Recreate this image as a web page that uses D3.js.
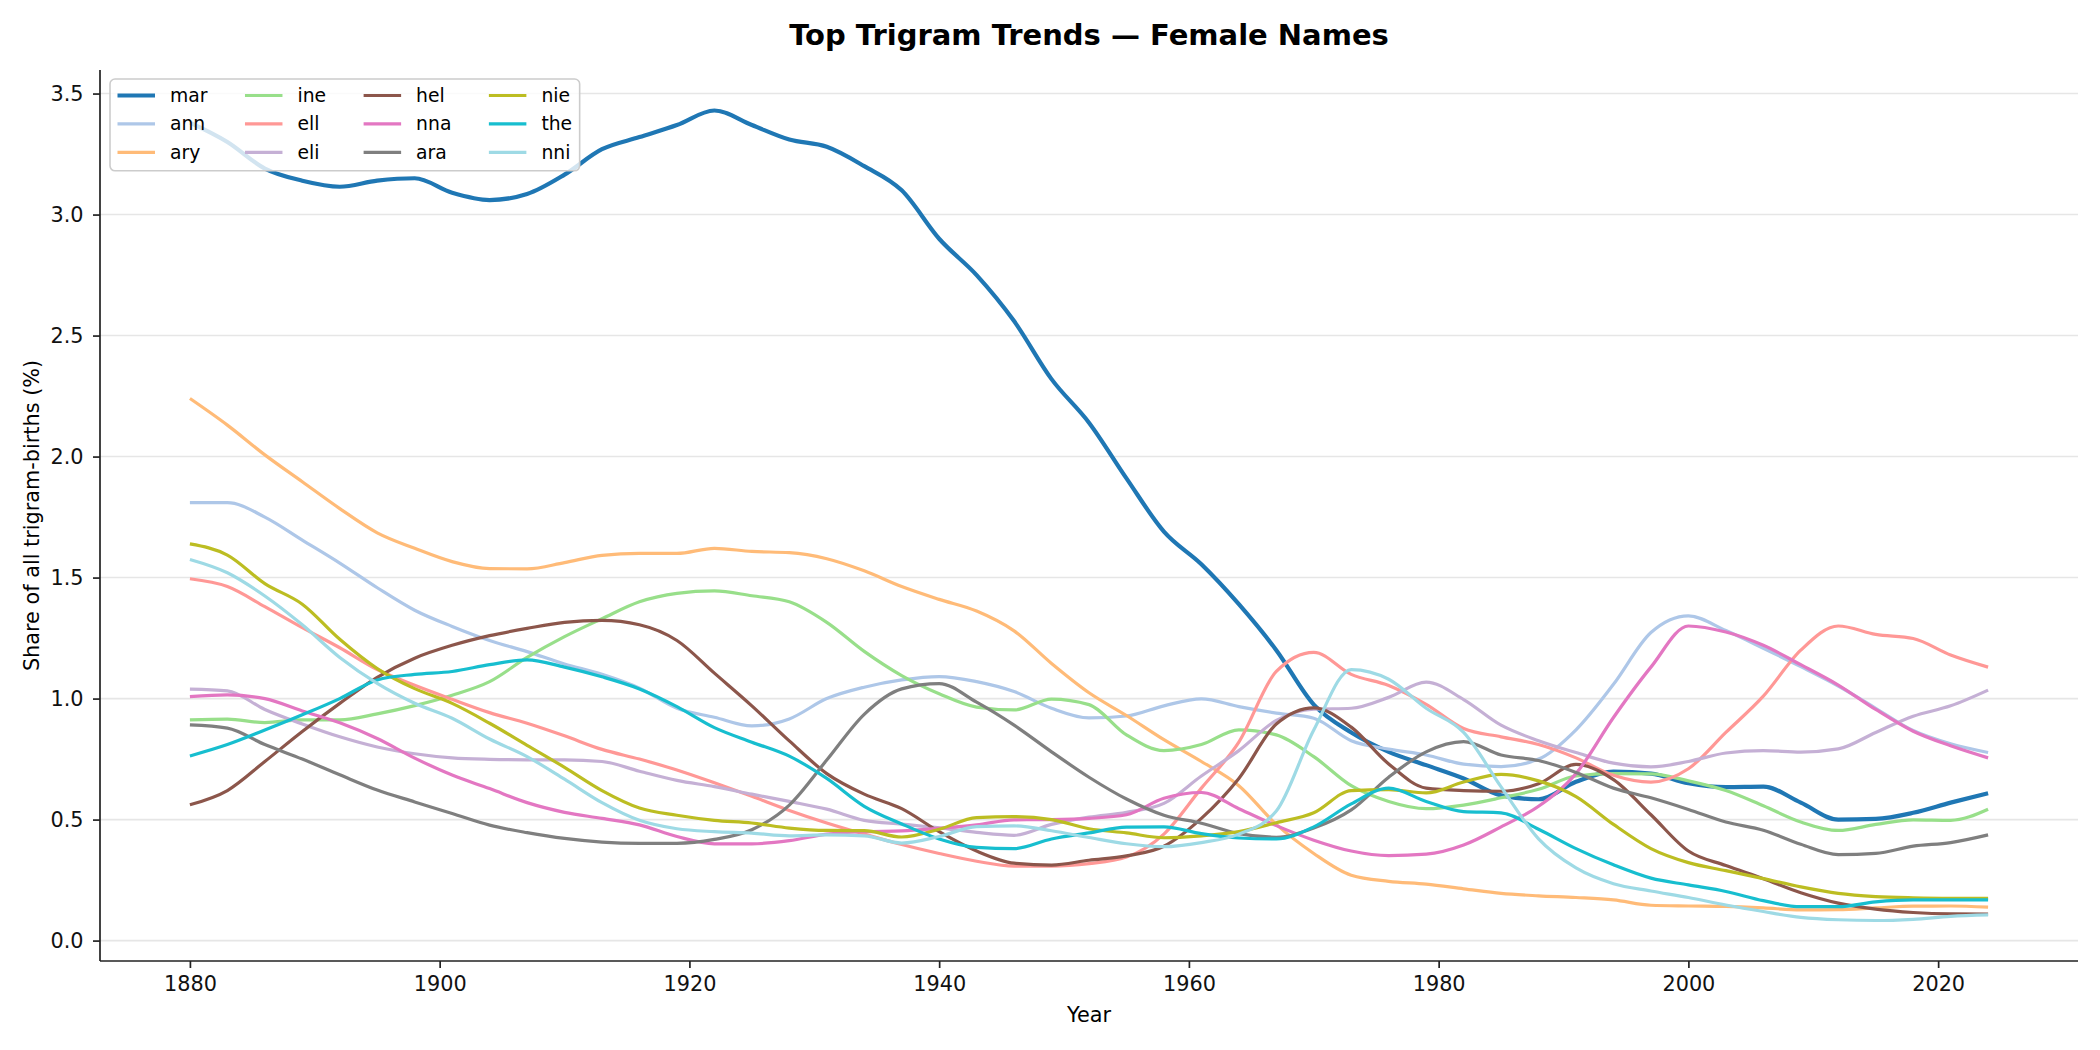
<!DOCTYPE html>
<meta charset="utf-8">
<html>
<head>
<script src="https://d3js.org/d3.v7.min.js"></script>
<style>
  body { margin: 0; background: #fff; }
  svg { font-family: "DejaVu Sans", sans-serif; }
</style>
</head>
<body>
<div id="chart"></div>
<script>

const years = [1880,1883,1886,1889,1892,1895,1898,1901,1904,1907,1910,1913,
  1916,1919,1922,1925,1928,1931,1934,1937,1940,1943,1946,1949,1952,
  1955,1958,1961,1964,1967,1970,1973,1976,1979,1982,1985,1988,1991,
  1994,1997,2000,2003,2006,2009,2012,2015,2018,2021,2024];

const mar = [3.38,3.30,3.19,3.14,3.115,3.14,3.15,3.09,3.06,3.085,3.165,3.27,
  3.32,3.37,3.43,3.37,3.31,3.28,3.20,3.10,2.90,2.75,2.56,2.32,2.14,
  1.91,1.69,1.555,1.39,1.20,0.975,0.86,0.78,0.725,0.67,0.60,0.584,0.656,
  0.698,0.69,0.65,0.634,0.636,0.57,0.50,0.503,0.528,0.57,0.609];
const ann = [1.81,1.81,1.75,1.655,1.56,1.458,1.365,1.298,1.24,1.194,1.143,1.10,
  1.043,0.96,0.923,0.887,0.916,1.0,1.047,1.077,1.091,1.07,1.029,0.96,0.92,
  0.928,0.97,0.999,0.967,0.94,0.919,0.826,0.791,0.767,0.729,0.719,0.75,0.871,
  1.059,1.273,1.342,1.281,1.208,1.132,1.052,0.96,0.868,0.813,0.777];
const ary = [2.24,2.13,2.007,1.896,1.785,1.685,1.621,1.566,1.537,1.536,1.562,1.592,
  1.60,1.60,1.621,1.608,1.603,1.578,1.528,1.463,1.41,1.362,1.28,1.145,1.024,
  0.93,0.83,0.74,0.64,0.48,0.36,0.27,0.245,0.233,0.214,0.195,0.185,0.178,
  0.168,0.146,0.143,0.141,0.135,0.127,0.128,0.135,0.142,0.143,0.138];
const ine = [0.912,0.915,0.901,0.912,0.912,0.937,0.971,1.014,1.07,1.17,1.256,1.33,
  1.40,1.435,1.445,1.425,1.40,1.315,1.195,1.095,1.02,0.965,0.953,0.998,0.975,
  0.85,0.785,0.81,0.871,0.85,0.76,0.64,0.575,0.545,0.56,0.59,0.625,0.68,
  0.69,0.689,0.66,0.62,0.557,0.49,0.455,0.48,0.499,0.497,0.543];
const ell = [1.495,1.463,1.38,1.293,1.21,1.12,1.055,0.997,0.942,0.898,0.846,0.79,
  0.75,0.705,0.652,0.596,0.538,0.486,0.44,0.397,0.36,0.328,0.308,0.308,0.318,
  0.345,0.44,0.63,0.82,1.112,1.191,1.10,1.054,0.976,0.876,0.842,0.81,0.755,
  0.683,0.655,0.71,0.86,1.01,1.20,1.30,1.265,1.248,1.18,1.13];
const eli = [1.039,1.032,0.955,0.895,0.842,0.80,0.772,0.755,0.749,0.747,0.747,0.74,
  0.70,0.662,0.636,0.605,0.575,0.543,0.497,0.481,0.466,0.447,0.435,0.48,0.51,
  0.53,0.567,0.68,0.785,0.91,0.956,0.96,1.005,1.068,0.996,0.89,0.826,0.777,
  0.733,0.718,0.74,0.775,0.785,0.779,0.792,0.86,0.927,0.97,1.035];
const hel = [0.561,0.62,0.74,0.864,0.98,1.088,1.167,1.22,1.26,1.29,1.315,1.323,
  1.305,1.24,1.105,0.97,0.825,0.69,0.605,0.545,0.45,0.37,0.32,0.312,0.332,
  0.35,0.39,0.505,0.67,0.895,0.962,0.882,0.73,0.63,0.62,0.617,0.648,0.728,
  0.665,0.52,0.37,0.31,0.256,0.198,0.155,0.13,0.116,0.11,0.109];
const nna = [1.008,1.015,1.0,0.949,0.90,0.835,0.754,0.684,0.628,0.57,0.53,0.505,
  0.478,0.43,0.40,0.40,0.413,0.44,0.45,0.453,0.464,0.478,0.499,0.50,0.505,
  0.52,0.588,0.612,0.545,0.475,0.415,0.37,0.351,0.357,0.395,0.47,0.555,0.69,
  0.922,1.13,1.30,1.275,1.22,1.14,1.056,0.955,0.865,0.805,0.755];
const ara = [0.891,0.878,0.81,0.75,0.685,0.622,0.573,0.525,0.477,0.446,0.422,0.407,
  0.402,0.402,0.418,0.458,0.56,0.746,0.935,1.04,1.062,0.985,0.89,0.78,0.675,
  0.585,0.518,0.485,0.442,0.427,0.465,0.54,0.675,0.78,0.822,0.767,0.744,0.695,
  0.63,0.59,0.542,0.49,0.456,0.398,0.355,0.36,0.39,0.405,0.437];
const nie = [1.639,1.593,1.475,1.39,1.245,1.124,1.041,0.98,0.898,0.807,0.716,0.62,
  0.548,0.518,0.497,0.486,0.465,0.455,0.454,0.428,0.46,0.508,0.512,0.5,0.462,
  0.445,0.425,0.433,0.45,0.487,0.528,0.62,0.624,0.61,0.655,0.687,0.66,0.595,
  0.48,0.38,0.322,0.289,0.256,0.222,0.195,0.182,0.177,0.175,0.175];
const the = [0.763,0.81,0.87,0.933,1.0,1.077,1.10,1.112,1.14,1.16,1.13,1.09,
  1.04,0.967,0.88,0.82,0.762,0.67,0.555,0.482,0.42,0.385,0.38,0.42,0.445,
  0.469,0.47,0.442,0.424,0.42,0.47,0.565,0.63,0.575,0.533,0.528,0.46,0.38,
  0.313,0.258,0.23,0.203,0.165,0.14,0.14,0.16,0.168,0.168,0.168];
const nni = [1.575,1.52,1.424,1.305,1.17,1.063,0.981,0.919,0.833,0.76,0.667,0.57,
  0.497,0.462,0.45,0.444,0.433,0.437,0.433,0.403,0.43,0.471,0.474,0.454,0.426,
  0.40,0.388,0.405,0.44,0.535,0.87,1.12,1.08,0.96,0.86,0.635,0.42,0.30,
  0.235,0.205,0.178,0.147,0.12,0.096,0.086,0.083,0.088,0.10,0.106];

const xTicks = [1880, 1900, 1920, 1940, 1960, 1980, 2000, 2020];
const yTicks = [0, 0.5, 1, 1.5, 2, 2.5, 3, 3.5];

const series = [
  {name: "mar", color: "#1f77b4", values: mar, lw: 4.2},
  {name: "ann", color: "#aec7e8", values: ann},
  {name: "ary", color: "#ffbb78", values: ary},
  {name: "ine", color: "#98df8a", values: ine},
  {name: "ell", color: "#ff9896", values: ell},
  {name: "eli", color: "#c5b0d5", values: eli},
  {name: "hel", color: "#8c564b", values: hel},
  {name: "nna", color: "#e377c2", values: nna},
  {name: "ara", color: "#7f7f7f", values: ara},
  {name: "nie", color: "#bcbd22", values: nie},
  {name: "the", color: "#17becf", values: the},
  {name: "nni", color: "#9edae5", values: nni}
];

// figure layout (matplotlib-like 14x7 @150dpi)
const W = 2100, H = 1050;
const margin = {top: 70, right: 22, bottom: 89, left: 100};
const width = W - margin.left - margin.right,
      height = H - margin.top - margin.bottom;

const svg = d3.select("#chart").append("svg")
  .attr("width", W).attr("height", H);

const g = svg.append("g")
  .attr("transform", `translate(${margin.left},${margin.top})`);

// 5% padding like matplotlib autoscale
const xExt = d3.extent(years), xPad = (xExt[1] - xExt[0]) * 0.05;
const x = d3.scaleLinear()
  .domain([xExt[0] - xPad, xExt[1] + xPad])
  .range([0, width]);

const allVals = series.flatMap(s => s.values);
const yExt = d3.extent(allVals), yPad = (yExt[1] - yExt[0]) * 0.05;
const y = d3.scaleLinear()
  .domain([yExt[0] - yPad, yExt[1] + yPad])
  .range([height, 0]);

// horizontal grid
g.append("g")
  .selectAll("line")
  .data(yTicks)
  .join("line")
    .attr("x1", 0).attr("x2", width)
    .attr("y1", d => y(d)).attr("y2", d => y(d))
    .attr("stroke", "#e6e6e6")
    .attr("stroke-width", 1.6);

// lines
const line = d3.line()
  .x((d, i) => x(years[i]))
  .y(d => y(d))
  .curve(d3.curveMonotoneX);

g.append("g")
  .selectAll("path")
  .data(series)
  .join("path")
    .attr("d", d => line(d.values))
    .attr("fill", "none")
    .attr("stroke", d => d.color)
    .attr("stroke-width", d => d.lw || 3.2)
    .attr("stroke-linejoin", "round")
    .attr("stroke-linecap", "butt");

// axes
const xAxis = g.append("g")
  .attr("transform", `translate(0,${height})`)
  .call(d3.axisBottom(x).tickValues(xTicks).tickFormat(d3.format("d"))
    .tickSize(7).tickPadding(8));
const yAxis = g.append("g")
  .call(d3.axisLeft(y).tickValues(yTicks).tickFormat(d3.format(".1f"))
    .tickSize(7).tickPadding(9.5));

[xAxis, yAxis].forEach(a => {
  a.select(".domain").attr("stroke", "#222").attr("stroke-width", 1.7);
  a.selectAll(".tick line").attr("stroke", "#222").attr("stroke-width", 1.7);
  a.selectAll(".tick text").attr("fill", "#111")
    .style("font-size", "20.8px").style("font-family", "DejaVu Sans");
});
// keep spine flush with plot area (no outer tick at ends)
xAxis.select(".domain").attr("d", `M0,0H${width}`);
yAxis.select(".domain").attr("d", `M0,${height}V0`);

// labels
svg.append("text")
  .attr("x", margin.left + width / 2)
  .attr("y", 1022)
  .attr("text-anchor", "middle")
  .style("font-size", "20.8px")
  .text("Year");

svg.append("text")
  .attr("transform", `translate(39,${margin.top + height / 2}) rotate(-90)`)
  .attr("text-anchor", "middle")
  .style("font-size", "20.8px")
  .text("Share of all trigram-births (%)");

svg.append("text")
  .attr("x", margin.left + width / 2)
  .attr("y", 45)
  .attr("text-anchor", "middle")
  .style("font-size", "29px")
  .style("font-weight", "bold")
  .text("Top Trigram Trends \u2014 Female Names");

// legend, 4 columns x 3 rows, column-major like matplotlib ncol=4
const fs = 18.75;
const leg = g.append("g").attr("transform", "translate(10,9)");
const legBox = leg.append("rect")
  .attr("fill", "white").attr("fill-opacity", 0.8)
  .attr("stroke", "#cccccc").attr("stroke-width", 1.6)
  .attr("rx", 5).attr("ry", 5);

const nrow = 3, ncol = 4;
const handleLen = 2 * fs, textPad = 0.8 * fs, colSpace = 2 * fs;
const rowPitch = 28.4, pad = 0.4 * fs;
const items = leg.selectAll("g.item")
  .data(series)
  .join("g").attr("class", "item");
items.append("text")
  .attr("class", "lbl")
  .style("font-size", fs + "px")
  .attr("dy", "0.35em")
  .text(d => d.name);

// measure columns
const colW = [];
items.each(function (d, i) {
  const c = Math.floor(i / nrow);
  const w = d3.select(this).select("text").node().getComputedTextLength();
  colW[c] = Math.max(colW[c] || 0, w);
});
const colX = [];
let cx = pad;
for (let c = 0; c < ncol; c++) {
  colX[c] = cx;
  cx += handleLen + textPad + colW[c] + colSpace;
}
items.attr("transform", (d, i) => {
  const c = Math.floor(i / nrow), r = i % nrow;
  return `translate(${colX[c]},${pad + 9 + r * rowPitch})`;
});
items.insert("line", "text")
  .attr("x1", 0).attr("x2", handleLen)
  .attr("stroke", d => d.color)
  .attr("stroke-width", d => d.lw || 3.2);
items.select("text").attr("x", handleLen + textPad);

legBox
  .attr("width", cx - colSpace + pad)
  .attr("height", pad * 2 + 9 + (nrow - 1) * rowPitch + 11);
</script>
</body>
</html>
